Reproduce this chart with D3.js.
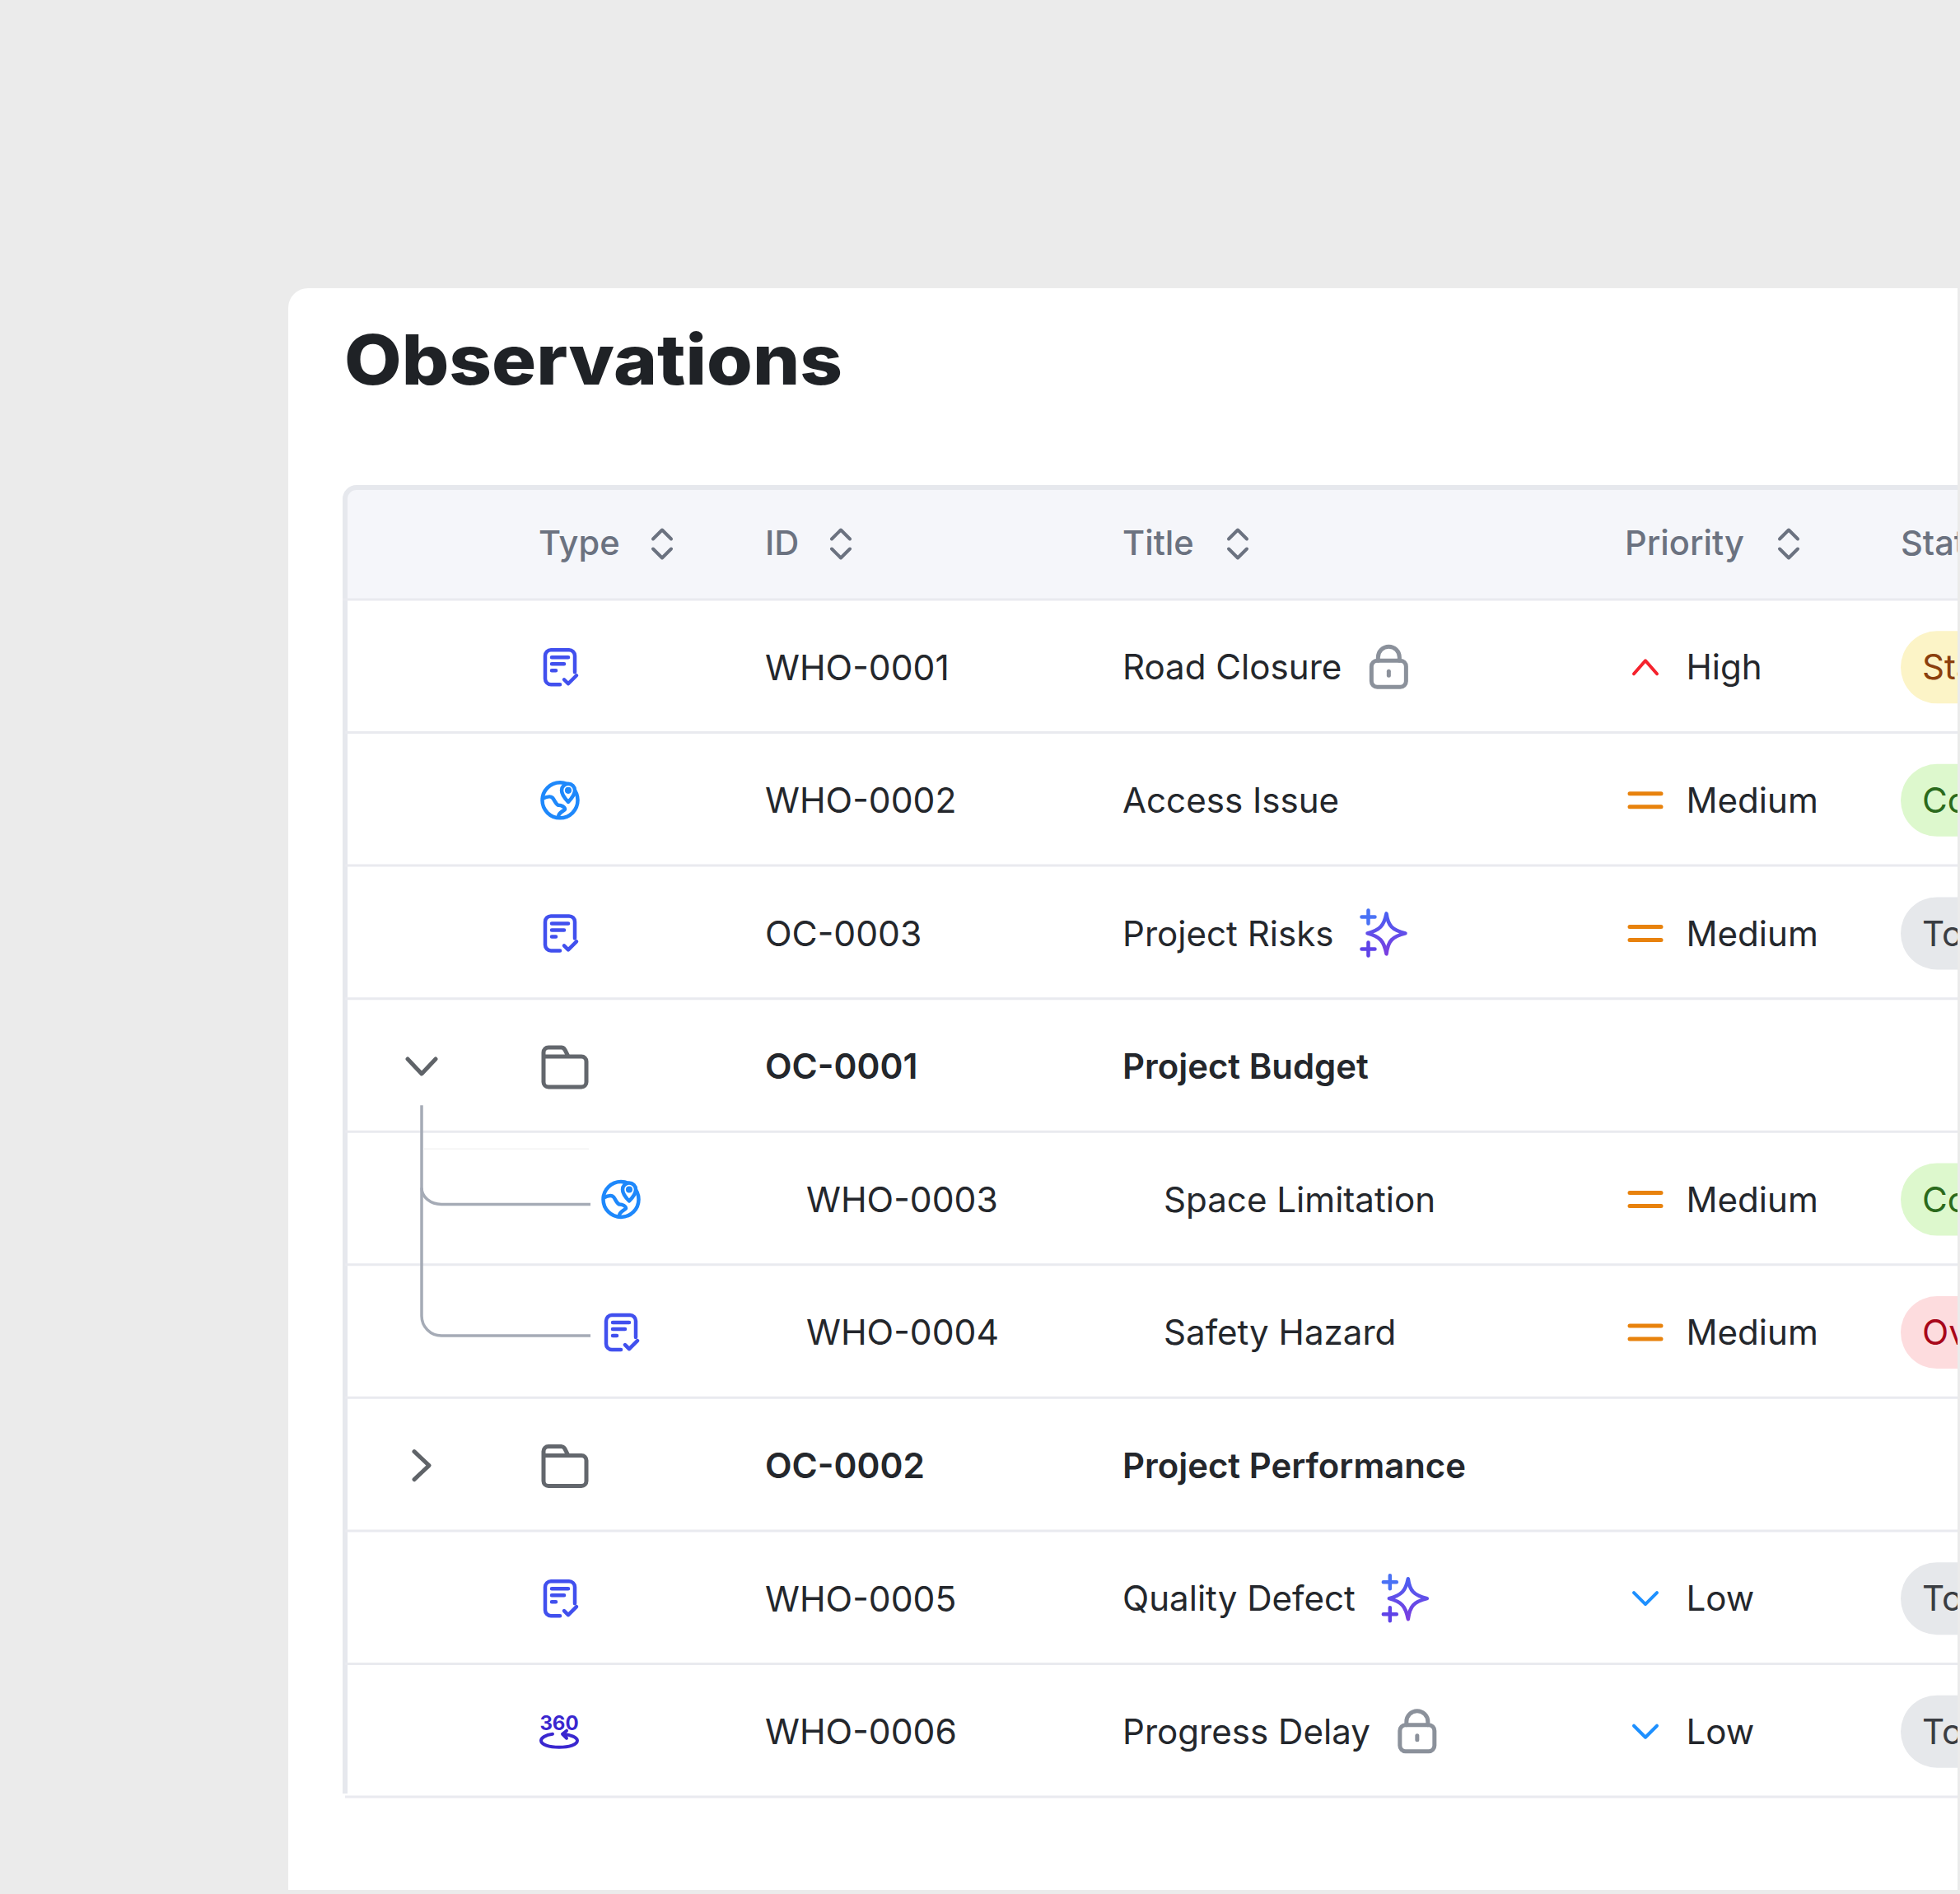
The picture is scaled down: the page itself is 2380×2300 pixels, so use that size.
<!DOCTYPE html>
<html>
<head>
<meta charset="utf-8">
<script src="https://cdn.jsdelivr.net/npm/d3@7"></script>
<style>
  html, body { margin: 0; padding: 0; background: #ebebeb; }
  svg { display: block; }
  text { font-family: Inter, "Noto Sans", sans-serif; }
</style>
</head>
<body>
<svg width="2380" height="2300"></svg>
<script>
const columns = ["Type", "ID", "Title", "Priority", "Status"];
const ids = ["WHO-0001", "WHO-0002", "OC-0003", "OC-0001", "WHO-0003", "WHO-0004", "OC-0002", "WHO-0005", "WHO-0006"];
const titles = ["Road Closure", "Access Issue", "Project Risks", "Project Budget", "Space Limitation", "Safety Hazard", "Project Performance", "Quality Defect", "Progress Delay"];
const types = ["doc", "globe", "doc", "folder", "globe", "doc", "folder", "doc", "pano"];
const priorities = ["High", "Medium", "Medium", null, "Medium", "Medium", null, "Low", "Low"];
const statuses = ["Started", "Completed", "To Do", null, "Completed", "Overdue", null, "To Do", "To Do"];
const depths = [0, 0, 0, 0, 1, 1, 0, 0, 0];
const badges = ["lock", null, "spark", null, null, null, null, "spark", "lock"];
const expanders = [null, null, null, "open", null, null, "closed", null, null];

const svg = d3.select("svg");

const cardLeft = 350, cardTop = 350, cardRight = 2377, cardBottom = 2295;
const tableLeft = 419, tableTop = 593, headerBottom = 728, tableBottom = 2182;

const y = d3.scaleBand().domain(ids).range([headerBottom, tableBottom]);
const x = d3.scaleOrdinal().domain(columns).range([654, 929, 1363, 1973, 2308]);
const indent = d3.scaleLinear().domain([0, 1]).range([0, 50]);
const rowY = id => y(id) + y.bandwidth() / 2 + 1.5;

const defs = svg.append("defs");
defs.append("clipPath").attr("id", "card-clip")
  .append("rect").attr("x", cardLeft).attr("y", cardTop)
  .attr("width", cardRight - cardLeft).attr("height", cardBottom - cardTop);
const grad = defs.append("linearGradient").attr("id", "spark-grad")
  .attr("x1", 0).attr("y1", 0).attr("x2", 0).attr("y2", 1);
grad.append("stop").attr("offset", "0%").attr("stop-color", "#4a5ff2");
grad.append("stop").attr("offset", "100%").attr("stop-color", "#7a3de0");

// card
svg.append("path")
  .attr("fill", "#fff")
  .attr("d", `M${cardLeft},${cardTop + 24}a24,24 0 0 1 24,-24H${cardRight}V${cardBottom}H${cardLeft}Z`);

svg.append("text")
  .attr("x", 418).attr("y", 467)
  .attr("font-size", 84).attr("font-weight", 800)
  .attr("fill", "#1f2226")
  .attr("textLength", 605).attr("lengthAdjust", "spacingAndGlyphs")
  .text("Observations");

const table = svg.append("g").attr("clip-path", "url(#card-clip)");

// header band + table outline
table.append("path")
  .attr("fill", "#f5f6fa")
  .attr("d", `M${tableLeft},${headerBottom}V${tableTop + 14}a14,14 0 0 1 14,-14H${cardRight}V${headerBottom}Z`);
table.append("path")
  .attr("fill", "none").attr("stroke", "#e6e8ed").attr("stroke-width", 6)
  .attr("d", `M${cardRight},${tableTop - 1}H${tableLeft + 14}a14,14 0 0 0 -14,14V${tableBottom - 4}`);

// row rules
table.selectAll("line.rule")
  .data(ids)
  .join("line")
  .attr("class", "rule")
  .attr("x1", tableLeft).attr("x2", cardRight)
  .attr("y1", d => y(d) + y.bandwidth()).attr("y2", d => y(d) + y.bandwidth())
  .attr("stroke", "#e9eaef").attr("stroke-width", 3);
table.append("line")
  .attr("x1", tableLeft - 3).attr("x2", cardRight)
  .attr("y1", headerBottom).attr("y2", headerBottom)
  .attr("stroke", "#e9eaef").attr("stroke-width", 3);

// header
const headY = (tableTop + headerBottom) / 2;
table.selectAll("text.head")
  .data(columns)
  .join("text")
  .attr("class", "head")
  .attr("x", d => x(d)).attr("y", headY - 1.5)
  .attr("dy", "0.36em")
  .attr("font-size", 41.6).attr("font-weight", 500)
  .attr("fill", "#6b7280")
  .text(d => d);

const sortGaps = { Type: 150, ID: 92, Title: 140, Priority: 199 };
Object.keys(sortGaps).forEach(c => {
  table.append("path")
    .attr("transform", `translate(${x(c) + sortGaps[c]},${headY})`)
    .attr("fill", "none").attr("stroke", "#6b7280").attr("stroke-width", 4)
    .attr("stroke-linecap", "round").attr("stroke-linejoin", "round")
    .attr("d", "M-11,-6L0,-17L11,-6M-11,6L0,17L11,6");
});

// glyphs, local coordinates around the row centre
function drawDoc(g) {
  g.attr("fill", "none").attr("stroke", "#4150ee").attr("stroke-width", 4.5)
    .attr("stroke-linecap", "round").attr("stroke-linejoin", "round");
  g.append("path").attr("d", "M18,6V-14a7,7 0 0 0 -7,-7H-11a7,7 0 0 0 -7,7V14a7,7 0 0 0 7,7H0");
  g.append("path").attr("d", "M-10,-12H10M-10,-4H5M-10,4H-5");
  g.append("path").attr("d", "M5,15L10,20L20,10");
}
function drawGlobe(g) {
  g.attr("fill", "none").attr("stroke", "#1e88fb").attr("stroke-width", 4.5)
    .attr("stroke-linecap", "round").attr("stroke-linejoin", "round");
  g.append("circle").attr("r", 21.5);
  g.append("path").attr("d", "M-21,-2C-15,-5 -11,-5 -9,-3C-6,1 -5,5 -2,6C2,6 6,8 6,11C3,14 -2,15 -2,20");
  g.append("path").attr("fill", "#fff")
    .attr("d", "M10,2C5,-3 2,-7 2,-12a8,8 0 0 1 16,0C18,-7 15,-3 10,2Z");
  g.append("circle").attr("cx", 10).attr("cy", -12).attr("r", 1.8).attr("fill", "#1e88fb");
}
function drawFolder(g) {
  g.attr("fill", "none").attr("stroke", "#63676d").attr("stroke-width", 5)
    .attr("stroke-linecap", "round").attr("stroke-linejoin", "round");
  g.append("path").attr("d", "M-26,-14V19a6,6 0 0 0 6,6H20a6,6 0 0 0 6,-6V-6a6,6 0 0 0 -6,-6H4L0,-20a5,5 0 0 0 -4,-3H-20a6,6 0 0 0 -6,6V-12H4");
}
function drawPano(g) {
  g.append("text")
    .attr("y", -2).attr("text-anchor", "middle")
    .attr("font-size", 24).attr("font-weight", 700)
    .attr("fill", "#3a27cf")
    .text("360");
  g.append("path")
    .attr("fill", "none").attr("stroke", "#3a27cf").attr("stroke-width", 4)
    .attr("stroke-linecap", "round").attr("stroke-linejoin", "round")
    .attr("d", "M-8,3C-17,4 -22,8 -22,11C-22,16 -12,19 0,19C12,19 22,16 22,11C22,7 14,4 5,3M9,-1L4,3L9,8");
}
function drawLock(g) {
  g.attr("fill", "none").attr("stroke", "#8b919b").attr("stroke-width", 5)
    .attr("stroke-linecap", "round");
  g.append("rect").attr("x", -21).attr("y", -8).attr("width", 42).attr("height", 32).attr("rx", 7);
  g.append("path").attr("d", "M-13,-8V-12a13,13 0 0 1 26,0V-8");
  g.append("path").attr("d", "M0,5V10");
}
function drawSpark(g) {
  g.attr("fill", "none").attr("stroke-width", 4.5)
    .attr("stroke-linecap", "round").attr("stroke-linejoin", "round");
  g.append("path")
    .attr("stroke", "url(#spark-grad)")
    .attr("d", "M7,-24C9,-9 14,-4 30,0C14,4 9,9 7,25C4,9 -1,4 -16,0C-1,-4 4,-9 7,-24Z");
  g.append("path").attr("stroke", "#4a72f5").attr("d", "M-15,-28V-12M-23,-20H-7");
  g.append("path").attr("stroke", "#5f43e8").attr("d", "M-15,11V27M-23,19H-7");
}
const typeGlyphs = { doc: drawDoc, globe: drawGlobe, folder: drawFolder, pano: drawPano };
const badgeGlyphs = { lock: drawLock, spark: drawSpark };
const badgeGaps = { lock: 57, spark: 57 };
const typeShift = { doc: 26, globe: 26, folder: 32, pano: 25 };

// tree lines for the expanded group
const kids = ids.filter((d, i) => depths[i] === 1);
const treeX = 512, treeEnd = 717, treeTop = y("OC-0001") + y.bandwidth() - 32;
table.append("line")
  .attr("x1", 515).attr("x2", 715)
  .attr("y1", y(kids[0]) + 21).attr("y2", y(kids[0]) + 21)
  .attr("stroke", "#f6f6f6").attr("stroke-width", 2);
const bottomKid = rowY(kids[1]) + 4;
table.append("path")
  .attr("fill", "none").attr("stroke", "#a5abb6").attr("stroke-width", 3.5)
  .attr("d", `M${treeX},${treeTop}V${bottomKid - 24}a24,24 0 0 0 24,24H${treeEnd}`);
table.append("path")
  .attr("fill", "none").attr("stroke", "#a5abb6").attr("stroke-width", 3.5)
  .attr("d", `M${treeX},${rowY(kids[0]) - 14}a24,20 0 0 0 24,20H${treeEnd}`);

// rows
ids.forEach((id, i) => {
  const cy = rowY(id);
  const strong = types[i] === "folder";
  const dx = indent(depths[i]);
  const fs = 42.1;

  if (expanders[i]) {
    table.append("path")
      .attr("transform", `translate(${treeX},${cy})`)
      .attr("fill", "none").attr("stroke", "#5f6368").attr("stroke-width", 5)
      .attr("stroke-linecap", "round").attr("stroke-linejoin", "round")
      .attr("d", expanders[i] === "open" ? "M-17,-9L0,9L17,-9" : "M-9,-17L9,0L-9,17");
  }

  const glyph = table.append("g")
    .attr("transform", `translate(${x("Type") + typeShift[types[i]] + (dx ? 75 - typeShift[types[i]] + 25 : 0)},${cy})`);
  typeGlyphs[types[i]](glyph);

  table.append("text")
    .attr("x", x("ID") + dx).attr("y", cy).attr("dy", "0.36em")
    .attr("font-size", strong ? 42.4 : 42.6).attr("font-weight", strong ? 600 : 400)
    .attr("fill", "#24272c")
    .text(id);

  const title = table.append("text")
    .attr("x", x("Title") + dx).attr("y", cy).attr("dy", "0.36em")
    .attr("font-size", strong ? 41.9 : fs).attr("font-weight", strong ? 600 : 400)
    .attr("fill", "#24272c")
    .text(titles[i]);

  if (badges[i]) {
    const end = x("Title") + dx + title.node().getComputedTextLength();
    badgeGlyphs[badges[i]](table.append("g")
      .attr("transform", `translate(${end + badgeGaps[badges[i]]},${cy})`));
  }

  if (priorities[i]) {
    const px = x("Priority") + 25;
    const mark = table.append("path")
      .attr("transform", `translate(${px},${cy})`)
      .attr("fill", "none").attr("stroke-linecap", "round").attr("stroke-linejoin", "round");
    if (priorities[i] === "High") {
      mark.attr("stroke", "#f5222d").attr("stroke-width", 4).attr("d", "M-14,8L0,-8L14,8");
    } else if (priorities[i] === "Medium") {
      mark.attr("stroke", "#e8820c").attr("stroke-width", 5).attr("d", "M-19,-8H19M19,8H-19");
    } else {
      mark.attr("stroke", "#1e90ff").attr("stroke-width", 4).attr("d", "M-14,-7L0,7L14,-7");
    }
    table.append("text")
      .attr("x", x("Priority") + 74.5).attr("y", cy).attr("dy", "0.36em")
      .attr("font-size", fs).attr("fill", "#24272c")
      .text(priorities[i]);
  }

  if (statuses[i]) {
    const look = {
      Started: ["#fcf4c7", "#8b3f0d"],
      Completed: ["#ddf8cd", "#2b6a1c"],
      "To Do": ["#e6e8eb", "#3a3d42"],
      Overdue: ["#fddcde", "#a8071a"]
    }[statuses[i]];
    table.append("rect")
      .attr("x", x("Status")).attr("y", cy - 44)
      .attr("width", 300).attr("height", 88).attr("rx", 44)
      .attr("fill", look[0]);
    table.append("text")
      .attr("x", x("Status") + 26).attr("y", cy).attr("dy", "0.36em")
      .attr("font-size", fs).attr("fill", look[1])
      .text(statuses[i]);
  }
});
</script>
</body>
</html>
